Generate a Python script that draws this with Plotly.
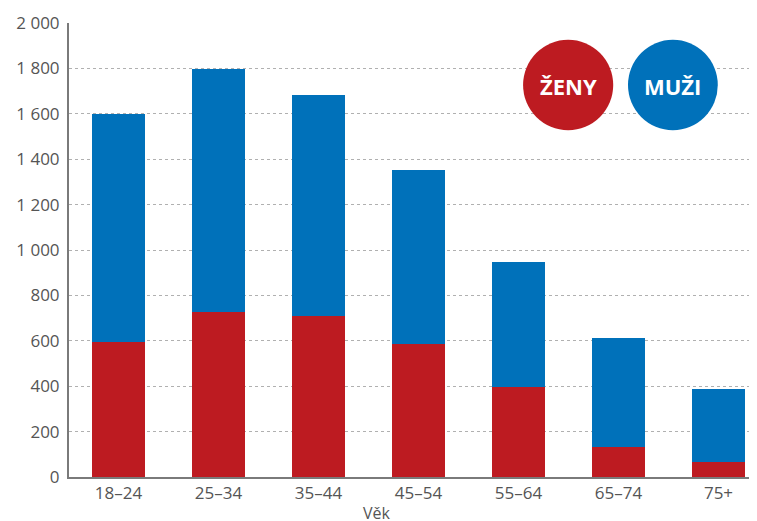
import plotly.graph_objects as go

# age groups and counts
age_groups = ['18–24', '25–34', '35–44', '45–54', '55–64', '65–74', '75+']
zeny = [596, 728, 710, 587, 396, 131, 66]
totals = [1601, 1797, 1685, 1354, 945, 612, 387]
muzi = [t - z for t, z in zip(totals, zeny)]

y_ticks = [0, 200, 400, 600, 800, 1000, 1200, 1400, 1600, 1800, 2000]

RED = '#BD1B21'
BLUE = '#0071BA'
FONT = 'Open Sans'
GREY_TEXT = '#555555'

fig = go.Figure()
fig.add_trace(go.Bar(x=age_groups, y=zeny, name='ŽENY', marker_color=RED,
                     marker_line_width=0, width=0.53))
fig.add_trace(go.Bar(x=age_groups, y=muzi, name='MUŽI', marker_color=BLUE,
                     marker_line_width=0, width=0.53))

# page body adds 8px, so margins are shifted by that
fig.update_layout(
    width=757, height=521,
    barmode='stack',
    showlegend=False,
    plot_bgcolor='white',
    paper_bgcolor='white',
    separators=', ',
    font=dict(family=FONT, color=GREY_TEXT, size=17),
    margin=dict(l=61, r=8, t=15, b=52),
    xaxis=dict(
        range=[-0.495, 6.385],
        automargin=False,
        showline=True, linecolor='#7a7a7a', linewidth=2,
        showgrid=False, ticks='',
        tickfont=dict(size=17, color=GREY_TEXT),
    ),
    yaxis=dict(
        range=[0, 2000],
        automargin=False,
        tickvals=y_ticks,
        tickformat=',',
        showline=True, linecolor='#7a7a7a', linewidth=2,
        showgrid=True, gridcolor='#b0b0b0', gridwidth=1, griddash='3px,3px',
        zeroline=False, ticks='',
        ticklabelstandoff=4,
        tickfont=dict(size=17, color=GREY_TEXT),
    ),
)

# axis title
fig.add_annotation(x=0.448, y=-0.08, xref='paper', yref='paper',
                   xanchor='center', yanchor='middle',
                   text='Věk', showarrow=False,
                   font=dict(family=FONT, size=16, color=GREY_TEXT))

# circle "legend" in the top right corner
legend_items = [('ŽENY', RED, 0.660, 0.791), ('MUŽI', BLUE, 0.8125, 0.943)]
for label, color, x0, x1 in legend_items:
    fig.add_shape(type='circle', xref='paper', yref='paper',
                  x0=x0, x1=x1, y0=0.764, y1=0.963,
                  fillcolor=color, line_width=0, layer='above')
    fig.add_annotation(x=(x0 + x1) / 2, y=0.862, xref='paper', yref='paper',
                       xanchor='center', yanchor='middle',
                       text='<b>%s</b>' % label, showarrow=False,
                       font=dict(family=FONT, size=22, color='white'))

fig.write_html("out.html")
